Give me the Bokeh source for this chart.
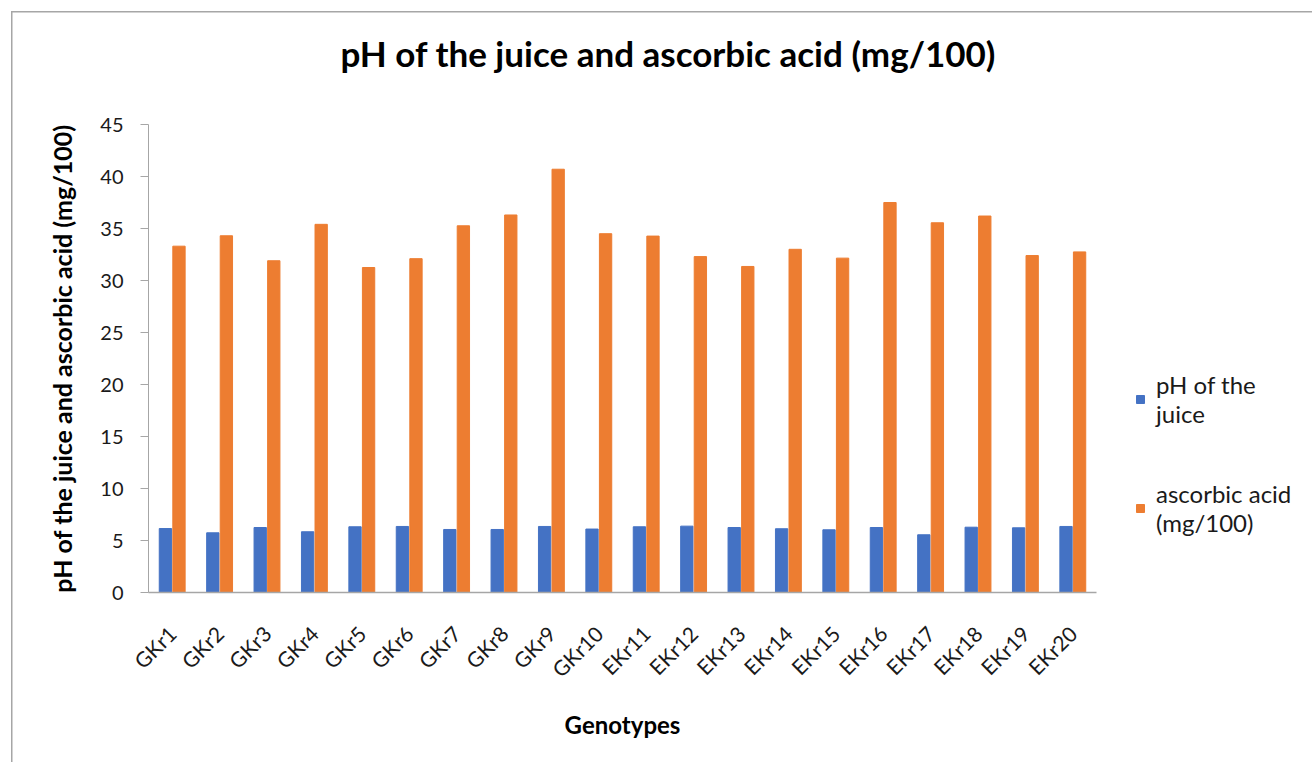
import math
from bokeh.plotting import figure
from bokeh.models import ColumnDataSource, FactorRange, Legend, LegendItem, SingleIntervalTicker, Title
from bokeh.transform import dodge
from bokeh.embed import file_html
from bokeh.resources import INLINE

genotypes = ["GKr1", "GKr2", "GKr3", "GKr4", "GKr5", "GKr6", "GKr7", "GKr8", "GKr9", "GKr10",
             "EKr11", "EKr12", "EKr13", "EKr14", "EKr15", "EKr16", "EKr17", "EKr18", "EKr19", "EKr20"]
ph_juice = [6.15, 5.74, 6.25, 5.84, 6.32, 6.35, 6.06, 6.06, 6.35, 6.10,
            6.32, 6.38, 6.25, 6.13, 6.03, 6.25, 5.55, 6.28, 6.22, 6.35]
ascorbic = [33.3, 34.3, 31.9, 35.4, 31.25, 32.1, 35.26, 36.3, 40.7, 34.5,
            34.27, 32.3, 31.35, 33.0, 32.15, 37.5, 35.55, 36.2, 32.4, 32.75]
series_names = ["pH of the\njuice", "ascorbic acid\n(mg/100)"]
title_text = "pH of the juice and ascorbic acid (mg/100)"

FONT = "Lato"

src = ColumnDataSource(dict(g=genotypes, ph=ph_juice, aa=ascorbic))

p = figure(frame_width=948, frame_height=468, x_range=FactorRange(*genotypes), y_range=(0, 45),
           output_backend="svg", toolbar_location=None, title=None,
           min_border_left=148, min_border_right=216, min_border_top=124, min_border_bottom=170)

r1 = p.vbar(x=dodge("g", -0.143, range=p.x_range), top="ph", width=0.26, source=src,
            fill_color="#4472C4", line_color="#4472C4")
r2 = p.vbar(x=dodge("g", 0.143, range=p.x_range), top="aa", width=0.26, source=src,
            fill_color="#ED7D31", line_color="#ED7D31")

p.xgrid.visible = False
p.ygrid.visible = False
p.outline_line_color = None
p.background_fill_color = "white"
p.border_fill_alpha = 0

# spacer between frame and title, then the title itself
p.add_layout(Title(text=" ", text_font_size="1px", standoff=47), "above")
p.add_layout(Title(text=title_text, align="left", offset=192, standoff=2,
                   text_font=FONT, text_font_size="35px", text_font_style="bold",
                   text_color="#000000"), "above")

# axes
p.yaxis.ticker = SingleIntervalTicker(interval=5)
p.yaxis.axis_line_color = "#a6a6a6"
p.yaxis.major_tick_line_color = "#a6a6a6"
p.yaxis.major_tick_out = 8
p.yaxis.major_tick_in = 0
p.yaxis.minor_tick_line_color = None
p.yaxis.major_label_text_font = FONT
p.yaxis.major_label_text_font_size = "20px"
p.yaxis.major_label_text_color = "#1a1a1a"
p.yaxis.major_label_standoff = 17
p.yaxis.axis_label = "pH of the juice and ascorbic acid (mg/100)"
p.yaxis.axis_label_text_font = FONT
p.yaxis.axis_label_text_font_size = "25px"
p.yaxis.axis_label_text_font_style = "bold"
p.yaxis.axis_label_text_color = "#000000"
p.yaxis.axis_label_standoff = 20

p.xaxis.axis_line_color = "#a6a6a6"
p.xaxis.axis_line_width = 1.5
p.xaxis.major_tick_line_color = None
p.xaxis.minor_tick_line_color = None
p.xaxis.major_label_orientation = math.pi / 4
p.xaxis.major_label_text_font = FONT
p.xaxis.major_label_text_font_size = "21px"
p.xaxis.major_label_text_color = "#1a1a1a"
p.xaxis.major_label_standoff = 31
p.xaxis.axis_label = "Genotypes"
p.xaxis.axis_label_text_font = FONT
p.xaxis.axis_label_text_font_size = "24px"
p.xaxis.axis_label_text_font_style = "bold"
p.xaxis.axis_label_text_color = "#000000"
p.xaxis.axis_label_standoff = 17

# legend
legend = Legend(items=[LegendItem(label=series_names[0], renderers=[r1]),
                       LegendItem(label=series_names[1], renderers=[r2])],
                location=(39, 55), orientation="vertical",
                label_text_font=FONT, label_text_font_size="24px", label_text_color="#1a1a1a",
                glyph_width=10, glyph_height=10, label_standoff=11, spacing=51,
                padding=0, margin=0, border_line_color=None, background_fill_alpha=0)
p.add_layout(legend, "right")

# chart area border (Excel-like), drawn by the page behind the transparent canvas border
p.styles = {"box-shadow": "inset 11px 11px 0 0 white, inset 12.5px 12.5px 0 0 #a6a6a6"}

open("out.html", "w").write(file_html(p, INLINE))
